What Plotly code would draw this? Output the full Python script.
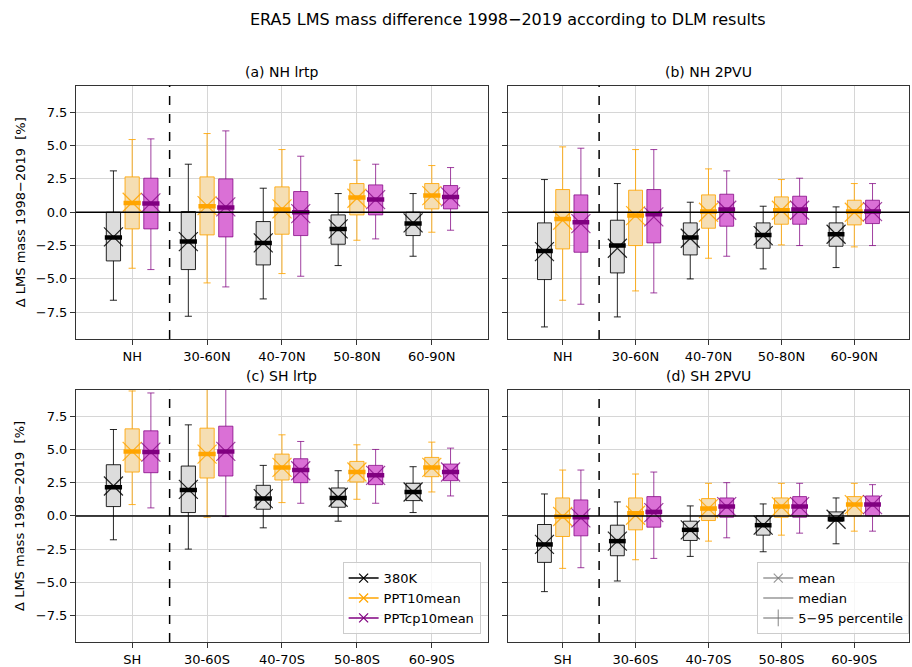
import plotly.graph_objects as go

# ---- categories, series and labels ----
CATS_NH = ["NH", "30-60N", "40-70N", "50-80N", "60-90N"]
CATS_SH = ["SH", "30-60S", "40-70S", "50-80S", "60-90S"]
SERIES = ["380K", "PPT10mean", "PPTcp10mean"]
PANEL_TITLES = ["(a) NH lrtp", "(b) NH 2PVU", "(c) SH lrtp", "(d) SH 2PVU"]
Y_TICKS = [-7.5, -5.0, -2.5, 0.0, 2.5, 5.0, 7.5]
Y_LABEL = "\u0394 LMS mass 1998\u22122019 \u00a0[%]"

# ---- statistics: rows are [380K, PPT10mean, PPTcp10mean], columns are categories ----
# (a) NH lrtp
A_P5 = [[-6.6, -7.8, -6.5, -4.0, -3.3], [-4.2, -5.3, -4.6, -2.1, -1.5], [-4.3, -5.6, -4.8, -2.0, -1.35]]
A_Q25 = [[-3.65, -4.3, -3.95, -2.4, -1.75], [-1.25, -1.7, -1.65, -0.2, 0.25], [-1.25, -1.85, -1.75, -0.2, 0.25]]
A_MED = [[-1.9, -2.2, -2.3, -1.25, -0.85], [0.7, 0.45, 0.2, 1.1, 1.25], [0.65, 0.35, 0.0, 0.95, 1.15]]
A_Q75 = [[0.0, 0.05, -0.7, -0.2, 0.0], [2.65, 2.65, 1.9, 2.15, 2.15], [2.55, 2.5, 1.55, 2.05, 2.0]]
A_P95 = [[3.1, 3.6, 1.8, 1.4, 1.4], [5.45, 5.9, 4.7, 3.9, 3.5], [5.5, 6.1, 4.2, 3.6, 3.35]]
A_MEAN = [[-1.85, -2.2, -2.3, -1.25, -0.8], [0.75, 0.5, 0.25, 1.05, 1.25], [0.7, 0.4, -0.1, 0.95, 1.15]]

# (b) NH 2PVU
B_P5 = [[-8.6, -7.85, -5.0, -4.25, -4.15], [-6.6, -5.9, -3.45, -2.45, -2.6], [-6.9, -6.05, -3.3, -2.5, -2.5]]
B_Q25 = [[-5.05, -4.55, -3.2, -2.7, -2.55], [-2.75, -2.5, -1.2, -0.9, -0.95], [-3.0, -2.3, -1.05, -0.9, -0.85]]
B_MED = [[-2.9, -2.5, -1.9, -1.7, -1.65], [-0.5, -0.25, 0.05, 0.15, 0.05], [-0.75, -0.15, 0.2, 0.2, 0.05]]
B_Q75 = [[-0.8, -0.6, -0.8, -0.8, -0.8], [1.7, 1.65, 1.3, 1.15, 0.9], [1.3, 1.7, 1.35, 1.2, 0.9]]
B_P95 = [[2.45, 2.15, 0.75, 0.45, 0.4], [4.9, 4.7, 3.25, 2.45, 2.15], [4.8, 4.7, 3.1, 2.55, 2.15]]
B_MEAN = [[-2.95, -2.7, -1.95, -1.75, -1.65], [-0.6, -0.25, 0.0, 0.15, 0.0], [-0.85, -0.35, 0.15, 0.15, 0.05]]

# (c) SH lrtp
C_P5 = [[-1.8, -2.5, -0.9, -0.4, 0.25], [0.85, -0.1, 1.0, 1.25, 1.8], [0.6, -0.05, 0.95, 0.95, 1.5]]
C_Q25 = [[0.7, 0.25, 0.5, 0.65, 1.15], [3.3, 2.85, 2.7, 2.55, 2.95], [3.25, 3.0, 2.5, 2.35, 2.65]]
C_MED = [[2.15, 1.95, 1.3, 1.35, 1.8], [4.85, 4.65, 3.65, 3.3, 3.65], [4.8, 4.85, 3.45, 3.05, 3.3]]
C_Q75 = [[3.85, 3.75, 2.3, 2.1, 2.45], [6.55, 6.6, 4.65, 4.1, 4.4], [6.4, 6.75, 4.3, 3.8, 3.9]]
C_P95 = [[6.5, 6.85, 3.8, 3.4, 3.7], [9.4, 10.8, 6.1, 5.35, 5.55], [9.25, 10.9, 5.6, 5.0, 5.1]]
C_MEAN = [[2.25, 2.0, 1.3, 1.4, 1.8], [4.85, 4.65, 3.65, 3.3, 3.65], [4.8, 4.85, 3.4, 3.05, 3.3]]

# (d) SH 2PVU
D_P5 = [[-5.7, -4.9, -3.05, -2.7, -2.1], [-3.95, -3.3, -1.9, -1.45, -1.15], [-3.9, -3.2, -1.65, -1.3, -1.15]]
D_Q25 = [[-3.5, -3.0, -1.85, -1.45, -0.4], [-1.55, -1.05, -0.35, -0.1, 0.0], [-1.5, -0.85, -0.1, -0.1, 0.0]]
D_MED = [[-2.15, -1.9, -1.05, -0.7, -0.25], [-0.05, 0.2, 0.55, 0.7, 0.85], [-0.1, 0.3, 0.7, 0.7, 0.85]]
D_Q75 = [[-0.65, -0.7, -0.4, 0.0, 0.3], [1.35, 1.35, 1.3, 1.35, 1.45], [1.2, 1.45, 1.35, 1.45, 1.5]]
D_P95 = [[1.65, 1.05, 0.75, 0.9, 1.35], [3.45, 3.15, 2.45, 2.45, 2.45], [3.45, 3.3, 2.5, 2.45, 2.35]]
D_MEAN = [[-2.15, -1.9, -1.05, -0.7, -0.25], [-0.05, 0.05, 0.55, 0.7, 0.85], [-0.15, 0.25, 0.7, 0.7, 0.85]]

# ---- styling ----
FONT = "DejaVu Sans"
EDGE = ["rgba(0,0,0,0.85)", "rgba(255,165,0,0.85)", "rgba(128,0,128,0.75)"]
FILL = ["#dcdcdc", "#f5deb3", "#da70d6"]
STRONG = ["black", "orange", "purple"]
OFFSETS = [-0.25, 0.0, 0.25]
BOX_W = 0.19
MED_HALF = 0.115

X_DOM = [[0.0833, 0.5351], [0.557, 0.9967]]
Y_DOM = [[0.4888, 0.871], [0.0315, 0.4123]]

panels = [
    (CATS_NH, A_P5, A_Q25, A_MED, A_Q75, A_P95, A_MEAN),
    (CATS_NH, B_P5, B_Q25, B_MED, B_Q75, B_P95, B_MEAN),
    (CATS_SH, C_P5, C_Q25, C_MED, C_Q75, C_P95, C_MEAN),
    (CATS_SH, D_P5, D_Q25, D_MED, D_Q75, D_P95, D_MEAN),
]

fig = go.Figure()
shapes = []
annotations = []
layout_axes = {}

for p, (cats, p5, q25, med, q75, p95, mean) in enumerate(panels):
    row, col = divmod(p, 2)
    sfx = "" if p == 0 else str(p + 1)
    xa, ya = "x" + sfx, "y" + sfx
    idx = list(range(len(cats)))

    for k in range(len(SERIES)):
        pos = [i + OFFSETS[k] for i in idx]
        fig.add_trace(go.Box(
            x=pos, q1=q25[k], median=med[k], q3=q75[k],
            lowerfence=p5[k], upperfence=p95[k],
            width=BOX_W, whiskerwidth=0.5, boxpoints=False,
            fillcolor=FILL[k], line=dict(color=EDGE[k], width=1),
            xaxis=xa, yaxis=ya, showlegend=False, hoverinfo="skip",
        ))
        # thick median bars
        mx, my = [], []
        for c, m in zip(pos, med[k]):
            mx += [c - MED_HALF, c + MED_HALF, None]
            my += [m, m, None]
        fig.add_trace(go.Scatter(
            x=mx, y=my, mode="lines", line=dict(color=STRONG[k], width=4.5),
            xaxis=xa, yaxis=ya, showlegend=False, hoverinfo="skip",
        ))
        # mean markers
        fig.add_trace(go.Scatter(
            x=pos, y=mean[k], mode="markers",
            marker=dict(symbol="x-thin", size=19, color=STRONG[k],
                        line=dict(color=EDGE[k], width=1.2)),
            xaxis=xa, yaxis=ya, showlegend=False, hoverinfo="skip",
        ))

    common = dict(showline=True, mirror=True, linecolor="#333333", linewidth=1,
                  ticks="outside", ticklen=5, tickcolor="#333333",
                  showgrid=True, gridcolor="#d6d6d6", gridwidth=1, zeroline=False,
                  tickfont=dict(family=FONT, size=13, color="black"))
    layout_axes["xaxis" + sfx] = dict(
        common, domain=X_DOM[col], anchor=ya, range=[-0.75, len(cats) - 0.25],
        tickvals=idx, ticktext=cats,
    )
    layout_axes["yaxis" + sfx] = dict(
        common, domain=Y_DOM[row], anchor=xa, range=[-9.5, 9.5],
        tickvals=Y_TICKS, ticktext=[f"{v:.1f}".replace("-", "\u2212") for v in Y_TICKS],
        showticklabels=(col == 0),
    )
    if col == 0:
        annotations.append(dict(text=Y_LABEL, xref="paper", yref="paper",
                                x=20 / 912, y=sum(Y_DOM[row]) / 2, textangle=-90,
                                xanchor="center", yanchor="middle", showarrow=False,
                                font=dict(family=FONT, size=13, color="black")))

    # zero reference line and hemisphere/band divider
    shapes.append(dict(type="line", xref=xa + " domain", yref=ya, x0=0, x1=1, y0=0, y1=0,
                       line=dict(color="black", width=1.5), layer="above"))
    shapes.append(dict(type="line", xref=xa, yref=ya + " domain", x0=(idx[0] + idx[1]) / 2,
                       x1=(idx[0] + idx[1]) / 2, y0=0, y1=1,
                       line=dict(color="black", width=1.5, dash="dash"), layer="above"))
    annotations.append(dict(text=PANEL_TITLES[p], xref="paper", yref="paper",
                            x=sum(X_DOM[col]) / 2, y=Y_DOM[row][1], yshift=4,
                            xanchor="center", yanchor="bottom", showarrow=False,
                            font=dict(family=FONT, size=14, color="black")))

# legend entries: series
for k, name in enumerate(SERIES):
    fig.add_trace(go.Scatter(
        x=[None], y=[None], mode="lines+markers", name=name,
        line=dict(color=STRONG[k], width=1.5),
        marker=dict(symbol="x-thin", size=9, line=dict(color=STRONG[k], width=1.2)),
        xaxis="x3", yaxis="y3", legend="legend",
    ))

# legend entries: statistic types
GREY = "rgba(110,110,110,0.7)"
fig.add_trace(go.Scatter(x=[None], y=[None], mode="lines+markers", name="mean",
                         line=dict(color=GREY, width=1.5),
                         marker=dict(symbol="x-thin", size=9, line=dict(color=GREY, width=1.2)),
                         xaxis="x4", yaxis="y4", legend="legend2"))
fig.add_trace(go.Scatter(x=[None], y=[None], mode="lines", name="median",
                         line=dict(color=GREY, width=1.5),
                         xaxis="x4", yaxis="y4", legend="legend2"))
fig.add_trace(go.Scatter(x=[None], y=[None], mode="lines+markers", name="5\u221295 percentile",
                         line=dict(color=GREY, width=1.5),
                         marker=dict(symbol="line-ns", size=12, line=dict(color=GREY, width=1.2)),
                         xaxis="x4", yaxis="y4", legend="legend2"))

annotations.append(dict(text="ERA5 LMS mass difference 1998\u22122019 according to DLM results",
                        xref="paper", yref="paper", x=0.557, y=1 - 20 / 667,
                        xanchor="center", yanchor="middle", showarrow=False,
                        font=dict(family=FONT, size=16, color="black")))

legend_style = dict(bgcolor="rgba(255,255,255,0.8)", bordercolor="#cccccc", borderwidth=1,
                    font=dict(family=FONT, size=13, color="black"), yanchor="bottom",
                    xanchor="right", y=0.0435, tracegroupgap=0)

fig.update_layout(
    width=912, height=667,
    margin=dict(l=0, r=0, t=0, b=0),
    paper_bgcolor="white", plot_bgcolor="white",
    font=dict(family=FONT, size=13, color="black"),
    boxmode="overlay",
    showlegend=True,
    legend=dict(legend_style, x=0.527),
    legend2=dict(legend_style, x=0.997),
    shapes=shapes,
    annotations=annotations,
    **layout_axes,
)

fig.write_html("out.html")
